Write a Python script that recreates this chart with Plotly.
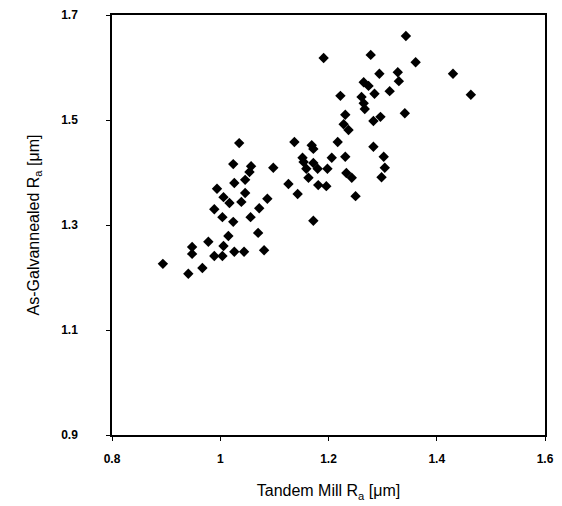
import plotly.graph_objects as go

tandem_ra = [0.989, 1.017, 1.039, 1.087, 1.072, 1.004, 1.056, 1.024, 1.015, 1.070,
             0.978, 1.006, 0.948, 0.948, 0.989, 1.004, 1.026, 1.044, 1.081, 0.894,
             0.967, 0.941, 1.035, 1.137, 1.024, 1.057, 1.054, 1.098, 1.046, 1.026,
             1.126, 0.994, 1.046, 1.006, 1.143, 1.343, 1.191, 1.278, 1.361, 1.294,
             1.328, 1.330, 1.265, 1.274, 1.285, 1.313, 1.222, 1.261, 1.265, 1.267,
             1.430, 1.463, 1.341, 1.296, 1.283, 1.231, 1.228, 1.237, 1.169, 1.172,
             1.217, 1.283, 1.302, 1.304, 1.298, 1.152, 1.154, 1.172, 1.206, 1.231,
             1.159, 1.180, 1.198, 1.233, 1.243, 1.163, 1.181, 1.196, 1.250, 1.172]
galv_ra = [1.330, 1.342, 1.344, 1.350, 1.332, 1.315, 1.315, 1.306, 1.279, 1.285,
           1.268, 1.260, 1.258, 1.245, 1.241, 1.241, 1.249, 1.249, 1.252, 1.226,
           1.218, 1.207, 1.456, 1.458, 1.416, 1.412, 1.401, 1.409, 1.386, 1.380,
           1.378, 1.369, 1.361, 1.353, 1.359, 1.660, 1.618, 1.624, 1.610, 1.588,
           1.591, 1.574, 1.572, 1.565, 1.550, 1.555, 1.546, 1.544, 1.532, 1.521,
           1.588, 1.548, 1.513, 1.506, 1.498, 1.510, 1.492, 1.481, 1.452, 1.445,
           1.458, 1.449, 1.430, 1.409, 1.391, 1.428, 1.420, 1.418, 1.428, 1.430,
           1.407, 1.407, 1.407, 1.399, 1.390, 1.390, 1.376, 1.374, 1.355, 1.308]

x_ticks = [0.8, 1.0, 1.2, 1.4, 1.6]
x_labels = ["0.8", "1", "1.2", "1.4", "1.6"]
y_ticks = [0.9, 1.1, 1.3, 1.5, 1.7]
y_labels = ["0.9", "1.1", "1.3", "1.5", "1.7"]

fig = go.Figure()
fig.add_trace(go.Scatter(
    x=tandem_ra, y=galv_ra, mode="markers",
    marker=dict(symbol="diamond", size=8, color="black"),
    showlegend=False,
))

axis_common = dict(
    showgrid=False, zeroline=False, showline=True, linecolor="black",
    linewidth=1.5, mirror=True, ticks="outside", ticklen=4,
    tickcolor="black",
    tickfont=dict(family="Liberation Sans, Arial", size=12, color="black", weight="bold"),
)

fig.update_layout(
    width=554, height=498,
    margin=dict(l=104, r=17, t=7, b=71, autoexpand=False),
    plot_bgcolor="white", paper_bgcolor="white",
    font=dict(family="Liberation Sans, Arial", color="black"),
    xaxis=dict(range=[0.8, 1.6], tickvals=x_ticks, ticktext=x_labels,
               title=dict(text="Tandem Mill R<sub>a</sub> [μm]",
                          font=dict(size=16), standoff=20),
               ticklabelstandoff=8, automargin=False, **axis_common),
    yaxis=dict(range=[0.9, 1.7], tickvals=y_ticks, ticktext=y_labels,
               title=dict(text="As-Galvannealed R<sub>a</sub> [μm]",
                          font=dict(size=16), standoff=18),
               ticklabelstandoff=26, automargin=False, **axis_common),
)

fig.write_html("out.html")
